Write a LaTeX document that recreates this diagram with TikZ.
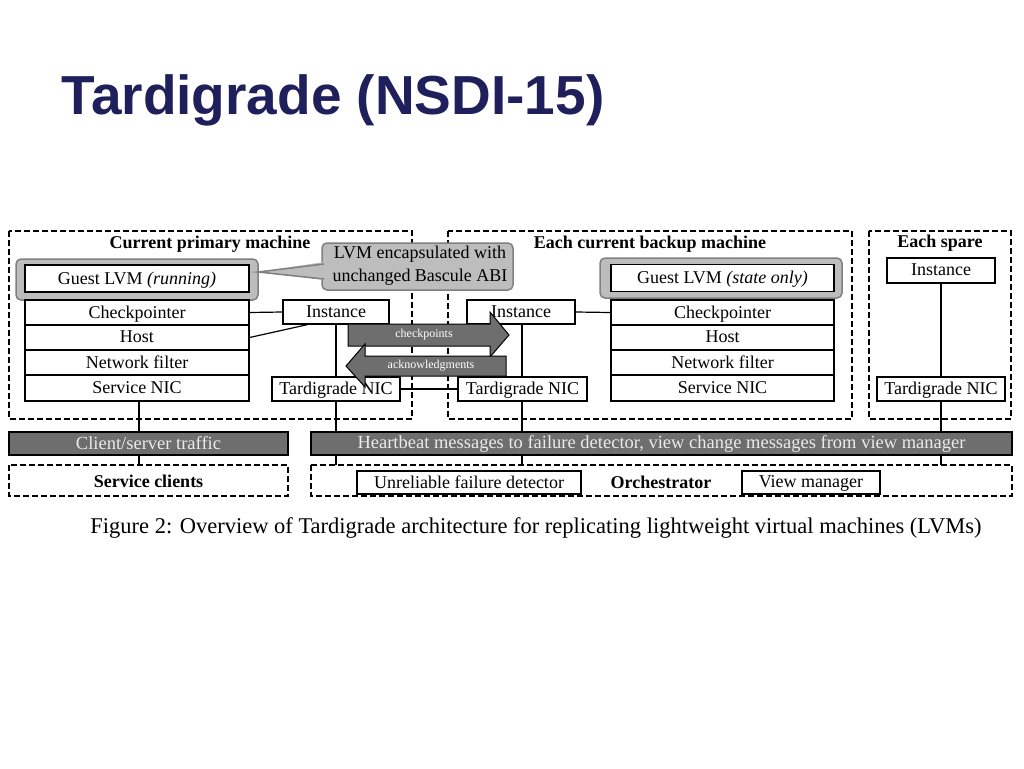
\documentclass[tikz,border=0pt]{standalone}
\usepackage{fontspec}
\setmainfont{Liberation Serif}
\newfontfamily\titlefont{Liberation Sans}
\definecolor{navy}{HTML}{1F1F5C}
\definecolor{bargray}{HTML}{6E6E6E}
\definecolor{lvmgray}{HTML}{BDBDBD}
\tikzset{
  box/.style={draw, line width=1.3pt, fill=white, inner sep=0pt, text depth=1pt, font=\fontsize{18}{20}\selectfont},
  machine/.style={draw, dash pattern=on 6pt off 3pt, line width=1.2pt},
  bar/.style={draw, line width=1.1pt, fill=bargray, text=white!92!black, inner sep=0pt, font=\fontsize{18.5}{20}\selectfont},
  head/.style={font=\bfseries\fontsize{18}{20}\selectfont},
  lvm/.style={draw=gray, line width=1.5pt, fill=lvmgray, rounded corners=5pt},
  flow/.style={draw, line width=1pt, fill=bargray, line join=miter},
  flowtext/.style={text=white, font=\fontsize{12}{13}\selectfont},
  link/.style={line width=1.2pt}
}
\begin{document}
\begin{tikzpicture}[x=1pt,y=-1pt]
\useasboundingbox (0,0) rectangle (1024,768);
\node[anchor=west, text=navy, font=\titlefont\bfseries\fontsize{55}{60}\selectfont] (title) at (58,100) {Tardigrade (NSDI-15)};

% machines
\draw[machine] (9,231) rectangle (412,419);
\draw[machine] (448,231) rectangle (852,419);
\draw[machine] (869,231) rectangle (1011,419);
\node[head] (hprim) at (210,244) {Current primary machine};
\node[head] (hback) at (650,244) {Each current backup machine};
\node[head] (hspare) at (940,243) {Each spare};

% links under everything
\draw[link] (139,401) -- (139,465);
\draw[link] (336,324) -- (336,465);
\draw[link] (522,324) -- (522,465);
\draw[link] (941,283) -- (941,465);
\draw[link] (400,389) -- (458,389);

% primary stack
\draw[lvm] (16,259) rectangle (258,300);
\node[box, minimum width=224pt, minimum height=27pt] (glvm) at (137,278.5) {Guest LVM \textit{(running)}};
\node[box, minimum width=224pt, minimum height=25pt] (chk) at (137,312.5) {Checkpointer};
\node[box, minimum width=224pt, minimum height=25pt] (host) at (137,337.5) {Host};
\node[box, minimum width=224pt, minimum height=25pt] (nf) at (137,362.5) {Network filter};
\node[box, minimum width=224pt, minimum height=26pt] (snic) at (137,388) {Service NIC};
\node[box, minimum width=106pt, minimum height=24pt] (inst) at (336,312) {Instance};
\node[box, minimum width=128pt, minimum height=24pt] (tnic) at (336,389) {Tardigrade NIC};
\draw[link] (chk.east) -- (inst.west);
\draw[link] (host.east) -- ([xshift=25pt]inst.south west);

% callout
\draw[lvm] (322,243) rectangle (513,290);
\fill[lvmgray] (258,272) -- (324,262) -- (324,280) -- cycle;
\draw[gray, line width=1.5pt] (324,264) -- (258,272) -- (324,279);
\node[align=center, font=\fontsize{18}{23}\selectfont] (callout) at (420,266) {LVM encapsulated with\\unchanged Bascule ABI};

% backup stack
\draw[lvm] (600,258) rectangle (842,298);
\node[box, minimum width=223pt, minimum height=27pt] (glvmb) at (722.5,278) {Guest LVM \textit{(state only)}};
\node[box, minimum width=223pt, minimum height=25pt] (chkb) at (722.5,312.5) {Checkpointer};
\node[box, minimum width=223pt, minimum height=25pt] (hostb) at (722.5,337.5) {Host};
\node[box, minimum width=223pt, minimum height=25pt] (nfb) at (722.5,362.5) {Network filter};
\node[box, minimum width=223pt, minimum height=26pt] (snicb) at (722.5,388) {Service NIC};
\node[box, minimum width=108pt, minimum height=24pt] (instb) at (521,312) {Instance};
\node[box, minimum width=129pt, minimum height=24pt] (tnicb) at (522.5,389) {Tardigrade NIC};
\draw[link] (instb.east) -- (chkb.west);

% spare
\node[box, minimum width=108pt, minimum height=25pt] (insts) at (941,270.5) {Instance};
\node[box, minimum width=128pt, minimum height=24pt] (tnics) at (941,389) {Tardigrade NIC};

% traffic arrows
\draw[flow] (348,324) -- (490,324) -- (490,312) -- (509,335) -- (490,357) -- (490,346) -- (348,346) -- cycle;
\node[flowtext] (ckpt) at (424,335) {checkpoints};
\draw[flow] (506,356) -- (365,356) -- (365,344) -- (346,366) -- (365,387) -- (365,376) -- (506,376) -- cycle;
\node[flowtext] (ack) at (431,366) {acknowledgments};

% bars
\node[bar, minimum width=279pt, minimum height=23pt] (cst) at (148.5,443.5) {Client/server traffic};
\node[bar, minimum width=701pt, minimum height=23pt] (hb) at (661.5,443.5) {Heartbeat messages to failure detector, view change messages from view manager};

% bottom
\draw[machine] (9,465) rectangle (288,496);
\draw[machine] (311,465) rectangle (1012,496);
\node[head] (sc) at (148.5,481) {Service clients};
\node[box, minimum width=224pt, minimum height=23pt] (ufd) at (469,482.5) {Unreliable failure detector};
\node[head] (orch) at (661,482.5) {Orchestrator};
\node[box, minimum width=138pt, minimum height=23pt] (vm) at (811,482.5) {View manager};

\node[font=\fontsize{22.5}{25}\selectfont] (cap) at (536,528) {Figure 2: Overview of Tardigrade architecture for replicating lightweight virtual machines (LVMs)};
\end{tikzpicture}
\end{document}
